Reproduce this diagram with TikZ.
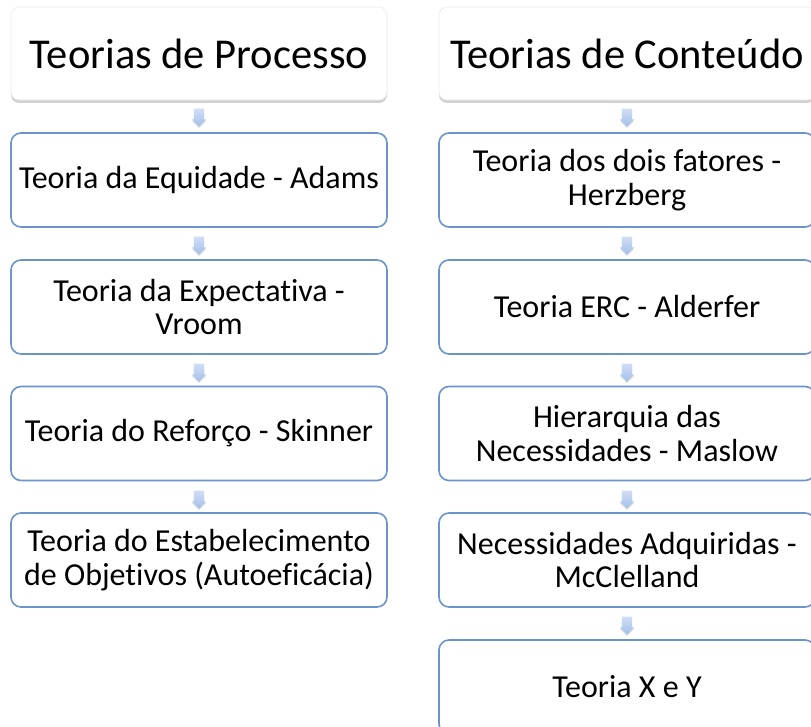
\documentclass[tikz,border=0pt]{standalone}
\usepackage{fontspec}
\setmainfont{Carlito}[Ligatures=NoCommon]
\usepackage{tikz}
\usetikzlibrary{shapes.arrows,shadows,positioning}

\tikzset{
  head/.style={shape=rectangle,rounded corners=8pt,minimum width=376pt,minimum height=93pt,
    draw=cgr,fill=white,line width=0.6pt,text=black,align=center,
    font=\fontsize{42.5}{48}\selectfont,
    drop shadow={shadow xshift=0pt,shadow yshift=-3pt,opacity=0.3,fill=black!60}},
  item/.style={shape=rectangle,rounded corners=10pt,minimum width=376pt,minimum height=94pt,
    draw=cbd,fill=white,line width=1.6pt,text=black,align=center,
    font=\fontsize{32}{33.5}\selectfont},
  down/.style={single arrow,shape border rotate=270,minimum height=18pt,minimum width=14pt,
    inner sep=5pt,single arrow head extend=2pt,draw=none,top color=ctop,bottom color=cbot,
    drop shadow={shadow xshift=0pt,shadow yshift=-1.5pt,opacity=0.25,fill=black!50}}
}

\begin{document}
\begin{tikzpicture}[x=1pt,y=-1pt]
%
\useasboundingbox (0,0) rectangle (811,727);
%
\definecolor{cbd}{rgb}{0.42,0.58,0.80}
\definecolor{cgr}{rgb}{0.92,0.92,0.92}
\definecolor{ctop}{rgb}{0.82,0.87,0.96}
\definecolor{cbot}{rgb}{0.64,0.75,0.91}
%
\node[head] (p0) at (199,53.5) {Teorias de Processo};
\node[item] (p1) at (199,180) {Teoria da Equidade - Adams};
\node[item] (p2) at (199,307) {Teoria da Expectativa -\\Vroom};
\node[item] (p3) at (199,433.5) {Teoria do Refor\c{c}o - Skinner};
\node[item] (p4) at (199,560) {Teoria do Estabelecimento\\de Objetivos (Autoefic\'acia)};
%
\node[head] (c0) at (627,53.5) {Teorias de Conte\'udo};
\node[item] (c1) at (627,180) {Teoria dos dois fatores -\\Herzberg};
\node[item] (c2) at (627,307) {Teoria ERC - Alderfer};
\node[item] (c3) at (627,433.5) {Hierarquia das\\Necessidades - Maslow};
\node[item] (c4) at (627,560) {Necessidades Adquiridas -\\McClelland};
\node[item] (c5) at (627,687) {Teoria X e Y};
%
\node[down] (pa1) at (199,115) {};
\node[down] (pa2) at (199,243) {};
\node[down] (pa3) at (199,370) {};
\node[down] (pa4) at (199,497) {};
%
\node[down] (ca1) at (627,115) {};
\node[down] (ca2) at (627,243) {};
\node[down] (ca3) at (627,370) {};
\node[down] (ca4) at (627,497) {};
\node[down] (ca5) at (627,623) {};
%
\end{tikzpicture}
\end{document}
